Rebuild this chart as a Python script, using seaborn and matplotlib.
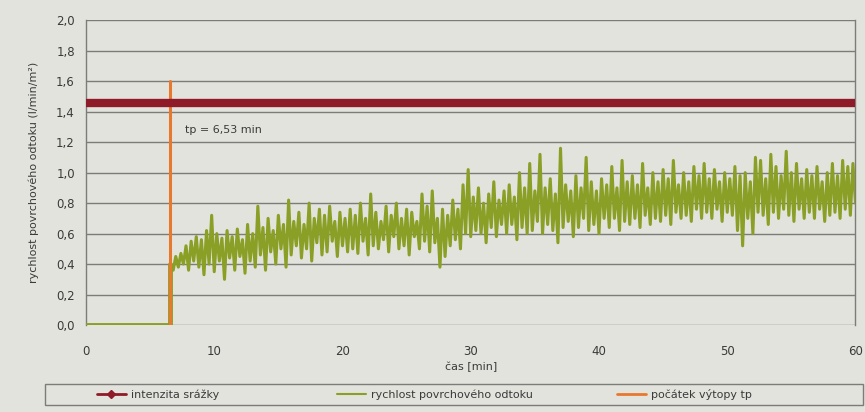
import numpy as np
import pandas as pd
import matplotlib
matplotlib.use("Agg")
import matplotlib.pyplot as plt
import seaborn as sns
from matplotlib.lines import Line2D
from matplotlib.patches import Rectangle

# ---- data ----
x_ticks = [0, 10, 20, 30, 40, 50, 60]
y_ticks = [0.0, 0.2, 0.4, 0.6, 0.8, 1.0, 1.2, 1.4, 1.6, 1.8, 2.0]
y_tick_labels = ["0,0", "0,2", "0,4", "0,6", "0,8", "1,0", "1,2", "1,4", "1,6", "1,8", "2,0"]

rain_time = [0, 60]
rain_intensity = [1.46, 1.46]

tp = 6.53
tp_line_time = [tp, tp]
tp_line_value = [0.0, 1.6]

pre_time = [0.0, tp, tp]
pre_runoff = [0.0, 0.0, 0.40]

runoff_time = list(np.round(np.arange(6.6, 60.001, 0.2), 2))
runoff = [
    0.40, 0.36, 0.45, 0.38, 0.47, 0.40, 0.52, 0.36, 0.55, 0.42,
    0.58, 0.38, 0.56, 0.33, 0.62, 0.40, 0.72, 0.35, 0.60, 0.42,
    0.57, 0.30, 0.62, 0.44, 0.58, 0.36, 0.63, 0.45, 0.56, 0.34,
    0.66, 0.42, 0.60, 0.38, 0.78, 0.46, 0.64, 0.36, 0.70, 0.48,
    0.62, 0.40, 0.72, 0.50, 0.66, 0.38, 0.82, 0.46, 0.68, 0.52,
    0.74, 0.44, 0.66, 0.50, 0.80, 0.42, 0.70, 0.54, 0.76, 0.46,
    0.72, 0.48, 0.78, 0.55, 0.68, 0.45, 0.74, 0.52, 0.70, 0.48,
    0.76, 0.50, 0.72, 0.47, 0.80, 0.55, 0.70, 0.46, 0.86, 0.52,
    0.74, 0.50, 0.68, 0.56, 0.78, 0.48, 0.72, 0.58, 0.80, 0.50,
    0.70, 0.52, 0.76, 0.46, 0.74, 0.58, 0.68, 0.50, 0.86, 0.55,
    0.78, 0.48, 0.88, 0.54, 0.70, 0.38, 0.76, 0.45, 0.72, 0.52,
    0.82, 0.56, 0.76, 0.50, 0.92, 0.60, 1.02, 0.58, 0.84, 0.62,
    0.90, 0.60, 0.80, 0.54, 0.86, 0.64, 0.94, 0.58, 0.82, 0.66,
    0.88, 0.60, 0.92, 0.66, 0.84, 0.56, 1.00, 0.64, 0.90, 0.60,
    1.06, 0.62, 0.88, 0.68, 1.12, 0.60, 0.90, 0.66, 0.96, 0.62,
    0.86, 0.54, 1.16, 0.64, 0.92, 0.68, 0.88, 0.58, 0.98, 0.64,
    0.90, 0.70, 1.10, 0.62, 0.94, 0.66, 0.88, 0.60, 0.96, 0.70,
    0.92, 0.64, 1.04, 0.70, 0.90, 0.62, 1.08, 0.68, 0.94, 0.66,
    0.98, 0.70, 0.92, 0.64, 1.06, 0.72, 0.90, 0.66, 1.00, 0.70,
    0.94, 0.68, 1.02, 0.72, 0.96, 0.66, 1.08, 0.74, 0.92, 0.70,
    1.00, 0.72, 0.94, 0.68, 1.04, 0.76, 0.98, 0.70, 1.06, 0.74,
    0.96, 0.70, 1.02, 0.76, 0.94, 0.68, 1.00, 0.74, 0.96, 0.72,
    1.04, 0.62, 0.98, 0.52, 1.00, 0.70, 0.94, 0.60, 1.10, 0.74,
    1.08, 0.72, 0.96, 0.66, 1.12, 0.74, 1.04, 0.70, 0.98, 0.76,
    1.14, 0.72, 1.00, 0.68, 1.06, 0.76, 0.96, 0.70, 1.02, 0.74,
    0.98, 0.70, 1.04, 0.76, 0.94, 0.68, 1.00, 0.72, 1.06, 0.74,
    0.98, 0.70, 1.08, 0.76, 1.04, 0.72, 1.06, 0.80,
]

labels = ["intenzita srážky", "rychlost povrchového odtoku", "počátek výtopy tp"]

# ---- style ----
sns.set_theme(style="white")
plt.rcParams["font.family"] = ["DejaVu Sans"]

BG = "#e3e3dd"
RED = "#8f1b29"
GREEN = "#8a9f26"
ORANGE = "#e8782e"
GRID = "#7c7c78"
TEXT = "#3a3a3a"

fig = plt.figure(figsize=(8.65, 4.12), dpi=100, facecolor=BG)
ax = fig.add_axes([0.0994, 0.211, 0.8896, 0.740])
ax.set_facecolor(BG)

df_run = pd.DataFrame({"t": runoff_time, "v": runoff})
df_pre = pd.DataFrame({"t": pre_time, "v": pre_runoff})
df_rain = pd.DataFrame({"t": rain_time, "v": rain_intensity})
df_tp = pd.DataFrame({"t": tp_line_time, "v": tp_line_value})

sns.lineplot(data=df_pre, x="t", y="v", ax=ax, color=GREEN, linewidth=3.5,
             sort=False, estimator=None, zorder=3)
sns.lineplot(data=df_run, x="t", y="v", ax=ax, color=GREEN, linewidth=2.2,
             sort=False, estimator=None, zorder=3)
sns.lineplot(data=df_tp, x="t", y="v", ax=ax, color=ORANGE, linewidth=2.2,
             sort=False, estimator=None, zorder=4)
sns.lineplot(data=df_rain, x="t", y="v", ax=ax, color=RED, linewidth=6,
             sort=False, estimator=None, zorder=5)

ax.text(7.7, 1.28, "tp = 6,53 min", fontsize=8, color=TEXT, va="center", ha="left")

ax.set_xlim(0, 60)
ax.set_ylim(0, 2.0)
ax.set_xticks(x_ticks)
ax.set_xticklabels([str(v) for v in x_ticks], fontsize=8.5, color=TEXT)
ax.set_yticks(y_ticks)
ax.set_yticklabels(y_tick_labels, fontsize=8.5, color=TEXT)
ax.tick_params(axis="x", pad=14, length=0)
ax.tick_params(axis="y", pad=8, length=0)
ax.yaxis.grid(True, color=GRID, linewidth=1.0)
ax.xaxis.grid(False)
ax.set_axisbelow(True)
for s in ["top", "bottom"]:
    ax.spines[s].set_visible(False)
for s in ["left", "right"]:
    ax.spines[s].set_color(GRID)
    ax.spines[s].set_linewidth(1.0)

ax.set_xlabel("čas [min]", fontsize=8, color=TEXT, labelpad=3)
ax.set_ylabel("rychlost povrchového odtoku (l/min/m²)", fontsize=8, color=TEXT, labelpad=12)

# legend frame
fig.patches.append(Rectangle((45 / 865, 1 - 405 / 412), 818 / 865, 21 / 412,
                             transform=fig.transFigure, facecolor=BG,
                             edgecolor=GRID, linewidth=1.0, zorder=0))
handles = [
    Line2D([], [], color=RED, linewidth=2, marker="D", markersize=4),
    Line2D([], [], color=GREEN, linewidth=1.5),
    Line2D([], [], color=ORANGE, linewidth=2),
]
x_positions = [97 / 865, 337 / 865, 617 / 865]
for h, lab, xp in zip(handles, labels, x_positions):
    lg = fig.legend([h], [lab], loc="center left", bbox_to_anchor=(xp, 1 - 394.5 / 412),
                    fontsize=8, frameon=False, handlelength=2.6, handletextpad=0.5,
                    borderaxespad=0, borderpad=0)
    for t in lg.get_texts():
        t.set_color(TEXT)

fig.savefig("out.png", dpi=100, facecolor=BG)
